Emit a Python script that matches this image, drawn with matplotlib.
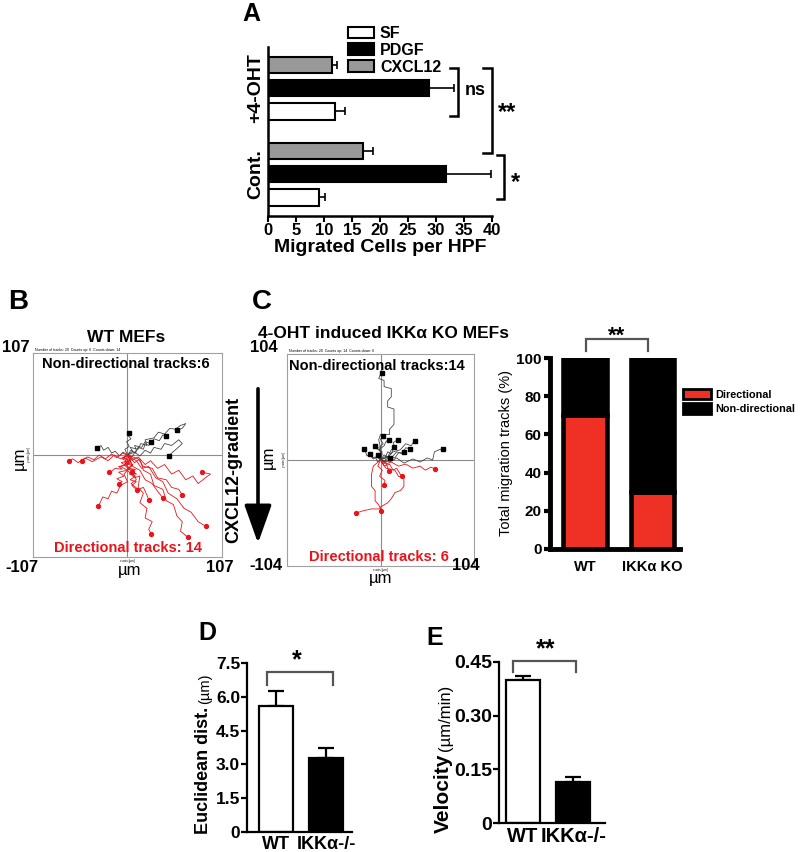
import matplotlib

matplotlib.use("Agg")
import matplotlib.pyplot as plt
from matplotlib.patches import Patch, FancyArrowPatch

plt.rcParams["font.family"] = ["Liberation Sans", "DejaVu Sans"]
plt.rcParams["font.weight"] = "bold"
plt.rcParams["axes.labelweight"] = "bold"

W, H = 800, 852
RED = "#e8141c"
BAR_RED = "#ee3124"

# ---------------- data ----------------
# A: transwell migration (cells per HPF)
A_GROUPS = ["Cont.", "+4-OHT"]
A_TREAT = ["SF", "PDGF", "CXCL12"]
A_MEAN = {"Cont.": [9.1, 31.8, 16.9], "+4-OHT": [12.0, 28.8, 11.4]}
A_ERR = {"Cont.": [1.0, 8.0, 1.8], "+4-OHT": [1.8, 4.4, 0.9]}
A_COLORS = ["white", "black", "#999999"]

# C (right): share of tracks, %
C_GENO = ["WT", "IKKα KO"]
C_DIRECTIONAL = [70, 30]
C_NONDIR = [30, 70]

# D: euclidean distance (um)
DE_GENO = ["WT", "IKKα-/-"]
D_MEAN = [5.6, 3.3]
D_ERR = [0.66, 0.45]

# E: velocity (um/min)
E_MEAN = [0.40, 0.115]
E_ERR = [0.011, 0.013]

# B: WT MEF tracks (um), all start at the origin
WT_BLACK = [
    [(0, 0), (6, 4), (3, 8), (12, 6), (15, 12), (22, 10), (20, 16), (30, 18), (35, 24),
     (42, 22), (48, 28), (54, 27), (60, 31), (66, 33), (62, 28), (56, 26)],
    [(0, 0), (5, -2), (10, 5), (8, 10), (16, 8), (20, 14), (26, 12), (30, 17), (36, 15),
     (40, 21), (44, 20)],
    [(0, 0), (8, 3), (14, -1), (20, 5), (26, 2), (30, 8), (38, 6), (42, 12), (50, 10),
     (58, 16), (62, 12), (55, 6), (50, 2), (47, -1)],
    [(0, 0), (4, 5), (9, 2), (12, 8), (18, 6), (20, 12), (24, 10), (27, 14)],
    [(0, 0), (-5, 3), (-9, -1), (-14, 4), (-18, 2), (-22, 8), (-27, 5), (-30, 10), (-34, 7)],
    [(0, 0), (-3, 6), (2, 9), (-1, 14), (4, 17), (0, 21), (2, 23)],
]
WT_RED = [
    [(0, 0), (-6, 2), (-12, -3), (-18, 1), (-25, -4), (-32, 0), (-38, -5), (-45, -2), (-52, -6)],
    [(0, 0), (-8, -4), (-15, 0), (-22, -6), (-30, -2), (-40, -7), (-48, -3), (-56, -8),
     (-62, -4), (-66, -6)],
    [(0, 0), (-5, -3), (2, -6), (-7, -8), (-2, -11), (-10, -12), (-6, -15), (-14, -14),
     (-18, -17), (-21, -18)],
    [(0, 0), (6, -5), (12, -2), (20, -10), (26, -6), (34, -14), (42, -10), (50, -20),
     (58, -16), (66, -26), (74, -22), (80, -30), (88, -24), (94, -20), (84, -18)],
    [(0, 0), (-3, -8), (2, -14), (-4, -20), (0, -28), (-8, -32), (-12, -40), (-18, -38),
     (-22, -46), (-28, -44), (-33, -54)],
    [(0, 0), (4, -6), (-2, -12), (6, -18), (10, -26), (4, -30), (12, -36), (18, -34),
     (22, -42), (24, -47)],
    [(0, 0), (5, -10), (0, -16), (8, -24), (14, -22), (12, -34), (18, -40), (14, -50),
     (22, -56), (20, -66), (28, -70), (24, -78), (27, -83)],
    [(0, 0), (8, -8), (14, -4), (18, -16), (26, -20), (30, -32), (40, -36), (44, -48),
     (52, -52), (56, -64), (62, -70), (60, -80), (68, -86)],
    [(0, 0), (10, -6), (16, -14), (24, -12), (32, -24), (40, -28), (46, -40), (56, -46),
     (64, -56), (72, -60), (80, -70), (89, -75)],
    [(0, 0), (3, -5), (-2, -8), (6, -10), (1, -14), (8, -16), (2, -20), (9, -22), (3, -26),
     (10, -28), (5, -32), (11, -37)],
    [(0, 0), (12, -4), (18, -12), (28, -14), (34, -24), (44, -26), (50, -34), (58, -36), (62, -42)],
    [(0, 0), (6, -12), (14, -16), (20, -26), (28, -30), (34, -38), (40, -45)],
    [(0, 0), (-4, -3), (3, -6), (-3, -9), (6, -11), (0, -14), (9, -15), (3, -18), (10, -20), (5, -18)],
    [(0, 0), (-6, -4), (2, -8), (-8, -12), (0, -16), (-10, -18), (-4, -22), (-12, -25),
     (-6, -28), (-10, -30)],
]

# C: 4-OHT induced IKKa KO MEF tracks (um)
KO_BLACK = [
    [(0, 0), (-4, 3), (-8, 1), (-12, 6), (-15, 4), (-18, 11)],
    [(0, 0), (-3, -2), (-6, 3), (-9, 2), (-12, 6)],
    [(0, 0), (10, -2), (18, 2), (26, -3), (36, 1), (44, -2), (52, 2), (58, 0), (60, 8),
     (65, 10), (69, 11)],
    [(0, 0), (6, 4), (12, 2), (18, 8), (24, 6), (28, 12), (33, 11)],
    [(0, 0), (5, -2), (10, 4), (16, 2), (20, 7), (26, 8)],
    [(0, 0), (2, 6), (-2, 10), (4, 14), (6, 18), (9, 20)],
    [(0, 0), (4, 5), (8, 3), (12, 10), (16, 12), (14, 17), (19, 20)],
    [(0, 0), (8, 3), (14, 8), (22, 10), (28, 16), (34, 14), (38, 19)],
    [(0, 0), (4, -2), (7, 3), (11, 2)],
    [(0, 0), (-2, 5), (2, 8), (-4, 11), (-6, 14)],
    [(0, 0), (1, 6), (-2, 12), (3, 16), (0, 20), (3, 24)],
    [(0, 0), (5, 2), (8, 8), (12, 6), (15, 13)],
    [(0, 0), (-2, 2), (-3, 5)],
    [(0, 0), (0, 12), (-2, 20), (0, 25), (10, 25), (10, 30), (15, 35), (15, 50), (8, 52),
     (8, 58), (12, 62), (12, 70), (4, 72), (4, 78), (-2, 80), (0, 84), (2, 85)],
]
KO_RED = [
    [(0, 0), (6, -4), (12, -2), (20, -6), (28, -4), (36, -8), (44, -6), (50, -10), (56, -7), (61, -9)],
    [(0, 0), (4, -6), (10, -4), (14, -10), (18, -8), (22, -14), (24, -16)],
    [(0, 0), (-8, -6), (-10, -14), (-10, -26), (-6, -30), (-6, -40), (-2, -44), (0, -48),
     (-10, -48), (-20, -50), (-27, -52)],
    [(0, 0), (6, -8), (16, -10), (20, -16), (26, -18), (26, -26), (22, -30), (16, -32),
     (12, -38), (8, -42), (4, -44), (0, -46), (0, -50)],
    [(0, 0), (3, -4), (6, -2), (8, -8), (10, -11)],
    [(0, 0), (-3, -6), (2, -10), (-1, -16), (5, -20), (4, -25)],
]


def rect(l, t, r, b):
    """pixel box (left, top, right, bottom) -> figure fraction rect"""
    return [l / W, 1 - b / H, (r - l) / W, (b - t) / H]


def ftext(x, y, s, **kw):
    return fig.text(x / W, 1 - y / H, s, **kw)


fig = plt.figure(figsize=(W / 100, H / 100), dpi=100)

# ================= A =================
axA = fig.add_axes(rect(268, 47, 492, 216))
for g, grp in enumerate(A_GROUPS):
    pos = [g * 3.7 + i for i in range(len(A_TREAT))]
    axA.barh(pos, A_MEAN[grp], height=0.7, color=A_COLORS, edgecolor="black",
             linewidth=1.5, zorder=2)
    axA.errorbar(A_MEAN[grp], pos, xerr=[[0] * 3, A_ERR[grp]], fmt="none",
                 ecolor="black", elinewidth=1.2, capsize=3, capthick=1.2, zorder=1)
axA.set_xlim(0, 40)
axA.set_ylim(-0.8, 6.47)
axA.set_xticks(range(0, 41, 5))
axA.set_yticks([1, 4.7])
axA.set_yticklabels(A_GROUPS, rotation=90, va="center", fontsize=14)
axA.tick_params(axis="y", length=0, pad=3)
axA.tick_params(axis="x", labelsize=12, width=1.5, length=4, pad=1)
axA.set_xlabel("Migrated Cells per HPF", fontsize=14, labelpad=1)
for s_ in ("top", "right"):
    axA.spines[s_].set_visible(False)
for s_ in ("left", "bottom"):
    axA.spines[s_].set_linewidth(1.8)

# significance brackets (vertical)
def vbracket(ax, x_in, x_out, y0, y1):
    ax.plot([x_in, x_out, x_out, x_in], [y0, y0, y1, y1], color="black",
            lw=1.8, clip_on=False, solid_joinstyle="miter")

vbracket(axA, 32.5, 33.9, 5.57, 3.5)
axA.text(35.2, 4.62, "ns", fontsize=13, ha="left", va="center", clip_on=False)
vbracket(axA, 38.4, 40.0, 5.57, 1.91)
axA.text(41.0, 3.65, "**", fontsize=17, ha="left", va="center", clip_on=False)
vbracket(axA, 40.9, 42.1, 1.83, -0.06)
axA.text(43.4, 0.62, "*", fontsize=17, ha="left", va="center", clip_on=False)

handlesA = [Patch(facecolor=c, edgecolor="black", linewidth=1.5) for c in A_COLORS]
fig.legend(handlesA, A_TREAT, loc="upper left", bbox_to_anchor=(348 / W, 1 - 26 / H),
           bbox_transform=fig.transFigure, frameon=False, fontsize=11.5,
           handlelength=1.65, handleheight=0.75, labelspacing=0.12, handletextpad=0.35,
           borderpad=0, borderaxespad=0)
ftext(242, 14, "A", fontsize=18, ha="left", va="center")


# ================= B / C tracks =================
def track_axes(box, lim, black, red, header):
    ax = fig.add_axes(rect(*box))
    ax.axhline(0, color="#8c8c8c", lw=0.8, zorder=1)
    ax.axvline(0, color="#8c8c8c", lw=0.8, zorder=1)
    for tr in black:
        xs, ys = zip(*tr)
        ax.plot(xs, ys, color="#3a3a3a", lw=0.55, zorder=2)
        ax.plot(xs[-1], ys[-1], "s", ms=2.4, color="black", zorder=4)
    for tr in red:
        xs, ys = zip(*tr)
        ax.plot(xs, ys, color=RED, lw=0.6, zorder=3)
        ax.plot(xs[-1], ys[-1], "o", ms=2.8, color=RED, zorder=4)
    ax.set_xlim(-lim, lim)
    ax.set_ylim(-lim, lim)
    ax.set_xticks([])
    ax.set_yticks([])
    for s_ in ax.spines.values():
        s_.set_color("#a0a0a0")
        s_.set_linewidth(0.8)
    ax.text(0.01, 1.005, header, transform=ax.transAxes, fontsize=2.6,
            fontweight="normal", ha="left", va="bottom")
    ax.text(0.5, -0.008, "x axis [µm]", transform=ax.transAxes, fontsize=2.2,
            fontweight="normal", ha="center", va="top")
    ax.text(-0.008, 0.5, "y axis [µm]", transform=ax.transAxes, fontsize=2.2,
            fontweight="normal", ha="right", va="center", rotation=90)
    return ax


track_axes((33, 353, 222, 557), 107, WT_BLACK, WT_RED,
           "Number of tracks: 20  Counts up: 6  Counts down: 14")
ftext(8, 302, "B", fontsize=20, ha="left", va="center")
ftext(126, 337, "WT MEFs", fontsize=12.5, ha="center", va="center")
ftext(126, 364, "Non-directional tracks:6", fontsize=10.5, ha="center", va="center")
ftext(128, 548, "Directional tracks: 14", fontsize=10.5, ha="center", va="center", color=RED)
ftext(16, 348, "107", fontsize=12, ha="center", va="center")
ftext(22, 568, "-107", fontsize=12, ha="center", va="center")
ftext(220, 568, "107", fontsize=12, ha="center", va="center")
ftext(130, 571, "µm", fontsize=12, ha="center", va="center", fontweight="normal")
ftext(19, 458, "µm", fontsize=12, ha="center", va="center", fontweight="normal", rotation=90)

track_axes((287, 354, 474, 566), 104, KO_BLACK, KO_RED,
           "Number of tracks: 20  Counts up: 14  Counts down: 6")
ftext(252, 302, "C", fontsize=20, ha="left", va="center")
ftext(384, 333, "4-OHT induced IKKα KO MEFs", fontsize=12.5, ha="center", va="center")
ftext(377, 366, "Non-directional tracks:14", fontsize=10.5, ha="center", va="center")
ftext(379, 557, "Directional tracks: 6", fontsize=10.5, ha="center", va="center", color=RED)
ftext(264, 348, "104", fontsize=12, ha="center", va="center")
ftext(266, 566, "-104", fontsize=12, ha="center", va="center")
ftext(466, 566, "104", fontsize=12, ha="center", va="center")
ftext(381, 578, "µm", fontsize=12, ha="center", va="center", fontweight="normal")
ftext(268, 457, "µm", fontsize=12, ha="center", va="center", fontweight="normal", rotation=90)
ftext(234, 470, "CXCL12-gradient", fontsize=13, ha="center", va="center", rotation=90)
fig.add_artist(FancyArrowPatch((258 / W, 1 - 386 / H), (258 / W, 1 - 546 / H),
                               transform=fig.transFigure,
                               arrowstyle="-|>,head_length=0.9,head_width=0.32",
                               mutation_scale=26, lw=2.6, color="black"))

# ================= C right: stacked bars =================
axC = fig.add_axes(rect(550, 358, 680, 549))
xc = range(len(C_GENO))
axC.bar(xc, C_DIRECTIONAL, width=0.64, color=BAR_RED, edgecolor="black", linewidth=3.3)
axC.bar(xc, C_NONDIR, bottom=C_DIRECTIONAL, width=0.64, color="black",
        edgecolor="black", linewidth=3.3)
axC.set_xlim(-0.52, 1.41)
axC.set_ylim(0, 100)
axC.set_yticks(range(0, 101, 20))
axC.set_xticks(list(xc))
axC.set_xticklabels(C_GENO, fontsize=10.5)
axC.tick_params(axis="x", length=0, pad=8)
axC.tick_params(axis="y", labelsize=11, width=3, length=4, pad=2)
for s_ in ("top", "right"):
    axC.spines[s_].set_visible(False)
for s_ in ("left", "bottom"):
    axC.spines[s_].set_linewidth(3.5)
axC.set_ylabel("Total migration tracks (%)", fontsize=10.5, fontweight="normal")
axC.yaxis.set_label_coords(-0.285, 0.5)


def bracket(ax, x0, x1, y_top, y_drop, color="#555555", lw=1.6):
    ax.plot([x0, x0, x1, x1], [y_drop, y_top, y_top, y_drop], color=color, lw=lw,
            clip_on=False, solid_joinstyle="miter")


bracket(axC, 0.015, 0.93, 110, 103.7)
axC.text(0.47, 111.5, "**", fontsize=16, ha="center", va="center", clip_on=False)
fig.legend([Patch(facecolor=BAR_RED, edgecolor="black", linewidth=2),
            Patch(facecolor="black", edgecolor="black", linewidth=2)],
           ["Directional", "Non-directional"], loc="upper left",
           bbox_to_anchor=(683 / W, 1 - 389 / H), bbox_transform=fig.transFigure,
           frameon=False, fontsize=7.8, handlelength=2.55, handleheight=1.1,
           labelspacing=0.3, handletextpad=0.4, borderpad=0, borderaxespad=0)


# ================= D / E =================
def mean_bars(box, means, errs, ymax, yticks, ylabels, xlim, fs_tick, fs_x, capsize):
    ax = fig.add_axes(rect(*box))
    xs = range(len(means))
    ax.bar(xs, means, width=0.67, color=["white", "black"], edgecolor="black",
           linewidth=1.6, zorder=2)
    ax.errorbar(xs, means, yerr=[[0] * len(errs), errs], fmt="none", ecolor="black",
                elinewidth=1.6, capsize=capsize, capthick=1.6, zorder=1)
    ax.set_xlim(*xlim)
    ax.set_ylim(0, ymax)
    ax.set_yticks(yticks)
    ax.set_yticklabels(ylabels, fontsize=fs_tick)
    ax.set_xticks(list(xs))
    ax.set_xticklabels(DE_GENO, fontsize=fs_x)
    ax.tick_params(axis="x", length=0, pad=3)
    ax.tick_params(axis="y", width=1.6, length=4, pad=1)
    for s_ in ("top", "right"):
        ax.spines[s_].set_visible(False)
    for s_ in ("left", "bottom"):
        ax.spines[s_].set_linewidth(1.6)
    return ax


def split_ylabel(x_right, y_bottom, bold, light, fs_bold, fs_light):
    """rotated label: bold words, then a smaller plain unit part above them,
    both sharing the same baseline side (right edge)"""
    t1 = ftext(x_right, y_bottom, bold, rotation=90, ha="right", va="bottom",
               fontsize=fs_bold)
    bb = t1.get_window_extent(fig.canvas.get_renderer())
    fig.text(x_right / W, (bb.y1 + 3) / H, light, rotation=90, ha="right", va="bottom",
             fontsize=fs_light, fontweight="normal")


axD = mean_bars((247, 663, 352, 832), D_MEAN, D_ERR, 7.5,
                [0, 1.5, 3.0, 4.5, 6.0, 7.5], ["0", "1.5", "3.0", "4.5", "6.0", "7.5"],
                (-0.58, 1.52), 12.5, 13, 6)
split_ylabel(212, 834, "Euclidean dist.", "(µm)", 13, 10.5)
bracket(axD, -0.18, 1.14, 7.11, 6.53)
axD.text(0.42, 7.6, "*", fontsize=18, ha="center", va="center", clip_on=False)
ftext(198, 633, "D", fontsize=18, ha="left", va="center")

axE = mean_bars((499, 662, 605, 823), E_MEAN, E_ERR, 0.45,
                [0, 0.15, 0.30, 0.45], ["0", "0.15", "0.30", "0.45"],
                (-0.47, 1.63), 14, 14.5, 6)
split_ylabel(453, 833, "Velocity", "(µm/min)", 15, 12)
bracket(axE, -0.19, 1.06, 0.453, 0.422)
axE.text(0.45, 0.485, "**", fontsize=18, ha="center", va="center", clip_on=False)
ftext(426, 638, "E", fontsize=18, ha="left", va="center")

fig.savefig("out.png", dpi=100)
